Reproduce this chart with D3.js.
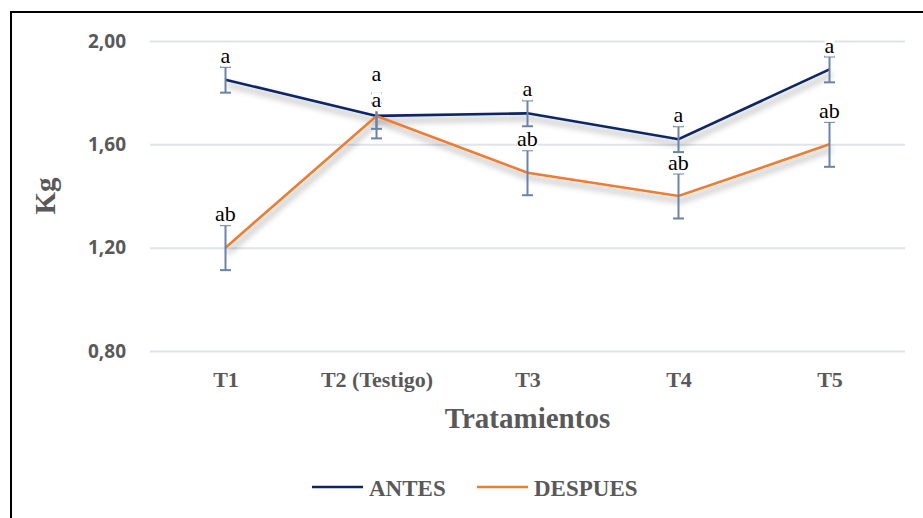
<!DOCTYPE html>
<html>
<head>
<meta charset="utf-8">
<script src="https://cdn.jsdelivr.net/npm/d3@7"></script>
<style>
  html, body { margin: 0; padding: 0; background: #fff; }
  svg { display: block; }
</style>
</head>
<body>
<svg id="chart" width="923" height="518"></svg>
<script>
// Treatments and mean weights (kg) before / after, with error margins
const categories = ["T1", "T2 (Testigo)", "T3", "T4", "T5"];
const antes = [1.85, 1.71, 1.72, 1.62, 1.89];
const despues = [1.20, 1.71, 1.49, 1.40, 1.60];
const antesErr = [0.05, 0.05, 0.05, 0.05, 0.05];
const despuesErr = [0.087, 0.087, 0.087, 0.087, 0.087];
const antesLetters = ["a", "a", "a", "a", "a"];
const despuesLetters = ["ab", "a", "ab", "ab", "ab"];
const yTicks = [0.8, 1.2, 1.6, 2.0];
const seriesNames = ["ANTES", "DESPUES"];

const svg = d3.select("#chart");
const plot = { left: 150, right: 905, top: 41, bottom: 351 };
const colors = { ANTES: "#0b2565", DESPUES: "#ed7d31" };
const errColor = "#6a83a8";
const grayText = "#595959";
const serif = "'Liberation Serif', 'Times New Roman', serif";

const x = d3.scalePoint().domain(categories).range([plot.left, plot.right]).padding(0.5);
const y = d3.scaleLinear().domain([0.8, 2.0]).range([plot.bottom, plot.top]);

// Frame (left and top edges)
svg.append("path")
  .attr("d", "M11,530 L11,12 L935,12")
  .attr("fill", "none").attr("stroke", "#000").attr("stroke-width", 2);

// Shadow filter for the series lines
const defs = svg.append("defs");
const f = defs.append("filter").attr("id", "shadow")
  .attr("x", "-10%").attr("y", "-50%").attr("width", "130%").attr("height", "250%");
f.append("feDropShadow").attr("dx", 2).attr("dy", 5).attr("stdDeviation", 3)
  .attr("flood-color", "#000").attr("flood-opacity", 0.4);

// Y axis with gridlines
const yAxis = svg.append("g")
  .attr("transform", `translate(${plot.left},0)`)
  .call(d3.axisLeft(y).tickValues(yTicks)
    .tickSize(-(plot.right - plot.left)).tickPadding(24)
    .tickFormat(d => d3.format(".2f")(d).replace(".", ",")));
yAxis.select(".domain").remove();
yAxis.selectAll("line").attr("stroke", "#dfe3ea").attr("stroke-width", 2);
yAxis.selectAll("text")
  .attr("fill", grayText)
  .style("font-family", "'Open Sans', sans-serif")
  .style("font-weight", 700).style("font-size", "19px");

// X axis labels
const xAxis = svg.append("g")
  .attr("transform", `translate(0,${plot.bottom})`)
  .call(d3.axisBottom(x).tickSize(0).tickPadding(20));
xAxis.select(".domain").remove();
xAxis.selectAll("text")
  .attr("fill", grayText)
  .style("font-family", serif)
  .style("font-weight", 700).style("font-size", "22px");

// Axis titles
svg.append("text")
  .attr("x", (plot.left + plot.right) / 2).attr("y", 428)
  .attr("text-anchor", "middle")
  .attr("fill", grayText)
  .style("font-family", serif).style("font-weight", 700).style("font-size", "29px")
  .text("Tratamientos");

svg.append("text")
  .attr("transform", `translate(55,${(plot.top + plot.bottom) / 2}) rotate(-90)`)
  .attr("text-anchor", "middle")
  .attr("fill", grayText)
  .style("font-family", serif).style("font-weight", 700).style("font-size", "29px")
  .text("Kg");

const series = [
  { name: "ANTES", values: antes, err: antesErr, letters: antesLetters },
  { name: "DESPUES", values: despues, err: despuesErr, letters: despuesLetters }
];

const line = d3.line().x((d, i) => x(categories[i])).y(d => y(d));

// Series lines
svg.append("g").selectAll("path")
  .data(series)
  .join("path")
  .attr("d", s => line(s.values))
  .attr("fill", "none")
  .attr("stroke", s => colors[s.name])
  .attr("stroke-width", 2.6)
  .attr("filter", "url(#shadow)");

// Error bars
const capHalf = 5.5;
series.forEach(s => {
  const g = svg.append("g").attr("stroke", errColor).attr("stroke-width", 2);
  s.values.forEach((v, i) => {
    const cx = x(categories[i]);
    const top = y(v + s.err[i]), bot = y(v - s.err[i]);
    g.append("line").attr("x1", cx).attr("x2", cx).attr("y1", top).attr("y2", bot);
    g.append("line").attr("x1", cx - capHalf).attr("x2", cx + capHalf).attr("y1", top).attr("y2", top);
    g.append("line").attr("x1", cx - capHalf).attr("x2", cx + capHalf).attr("y1", bot).attr("y2", bot);
  });
});

// Significance letters above each error bar; when two collide they are
// spread symmetrically around their midpoint
const labelGap = 4, minSpacing = 26;
const labels = [];
categories.forEach((c, i) => {
  const items = series.map(s => ({
    cx: x(c),
    baseline: y(s.values[i] + s.err[i]) - labelGap,
    text: s.letters[i]
  })).sort((a, b) => a.baseline - b.baseline);
  for (let k = 1; k < items.length; k++) {
    const a = items[k - 1], b = items[k];
    if (b.baseline - a.baseline < minSpacing) {
      const mid = (a.baseline + b.baseline) / 2;
      a.baseline = mid - minSpacing / 2;
      b.baseline = mid + minSpacing / 2;
    }
  }
  labels.push(...items);
});

const lg = svg.append("g");
labels.forEach(l => {
  const t = lg.append("text")
    .attr("x", l.cx).attr("y", l.baseline)
    .attr("text-anchor", "middle")
    .attr("fill", "#000")
    .style("font-family", serif).style("font-size", "22px")
    .text(l.text);
  const bb = t.node().getBBox();
  lg.insert("rect", () => t.node())
    .attr("x", bb.x).attr("y", l.baseline - 15)
    .attr("width", bb.width).attr("height", 19)
    .attr("fill", "#fff");
});

// Legend
const legend = svg.append("g");
const legendItems = [
  { name: seriesNames[0], x0: 312 },
  { name: seriesNames[1], x0: 477 }
];
legendItems.forEach(it => {
  legend.append("line")
    .attr("x1", it.x0).attr("x2", it.x0 + 51)
    .attr("y1", 487).attr("y2", 487)
    .attr("stroke", colors[it.name]).attr("stroke-width", 2.6);
  legend.append("text")
    .attr("x", it.x0 + 57).attr("y", 496)
    .attr("fill", grayText)
    .style("font-family", serif).style("font-weight", 700).style("font-size", "23px")
    .text(it.name);
});
</script>
</body>
</html>
